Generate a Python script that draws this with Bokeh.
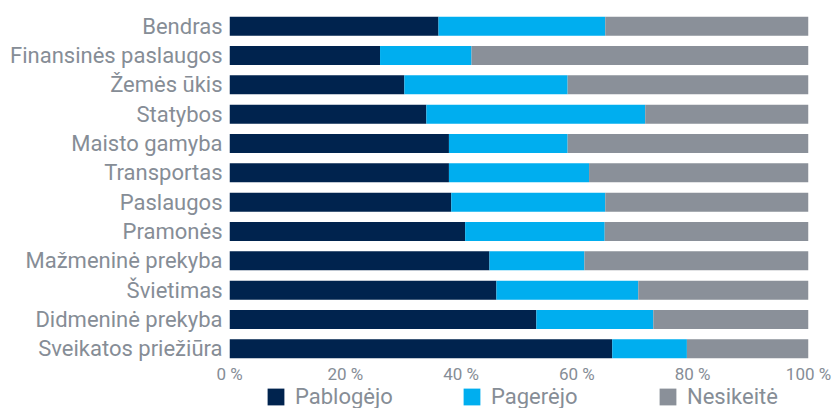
from bokeh.plotting import figure
from bokeh.layouts import column
from bokeh.models import ColumnDataSource, FactorRange, Range1d, FixedTicker, Legend, LegendItem
from bokeh.embed import file_html
from bokeh.resources import INLINE

categories = ["Bendras", "Finansinės paslaugos", "Žemės ūkis", "Statybos", "Maisto gamyba",
              "Transportas", "Paslaugos", "Pramonės", "Mažmeninė prekyba", "Švietimas",
              "Didmeninė prekyba", "Sveikatos priežiūra"]
pablogejo = [36.1, 26.0, 30.2, 34.0, 37.9, 37.9, 38.3, 40.7, 44.9, 46.1, 53.0, 66.1]
pagerejo = [28.8, 15.8, 28.2, 37.8, 20.5, 24.2, 26.6, 24.1, 16.4, 24.5, 20.2, 12.9]
nesikeite = [35.1, 58.2, 41.6, 28.2, 41.6, 37.9, 35.1, 35.2, 38.7, 29.4, 26.8, 21.0]
series_names = ["Pablogėjo", "Pagerėjo", "Nesikeitė"]
series_colors = ["#00234E", "#00AEEF", "#8A9099"]
tick_values = [0, 20, 40, 60, 80, 100]
tick_labels = ["0 %", "20 %", "40 %", "60 %", "80 %", "100 %"]

TEXT = "#868D96"
FONT = "Roboto"

source = ColumnDataSource(data=dict(cat=categories, a=pablogejo, b=pagerejo, c=nesikeite))

p = figure(width=837, height=386, output_backend="svg", toolbar_location=None,
           y_range=FactorRange(*list(reversed(categories))), x_range=Range1d(0, 100),
           min_border_left=229, min_border_right=29, min_border_top=11, min_border_bottom=20)

p.hbar_stack(["a", "b", "c"], y="cat", height=0.65, color=series_colors,
             line_color=None, source=source)

p.outline_line_color = None
p.xgrid.grid_line_color = None
p.ygrid.grid_line_color = None

p.xaxis.ticker = FixedTicker(ticks=tick_values)
p.xaxis.major_label_overrides = {v: l for v, l in zip(tick_values, tick_labels)}
for ax in (p.xaxis[0], p.yaxis[0]):
    ax.axis_line_color = None
    ax.major_tick_line_color = None
    ax.minor_tick_line_color = None
    ax.major_tick_out = 0
    ax.major_tick_in = 0
    ax.major_label_text_font = FONT
    ax.major_label_text_color = TEXT
p.xaxis.major_label_text_font_size = "17px"
p.xaxis.major_label_standoff = 0
p.yaxis.major_label_text_font_size = "22px"
p.yaxis.major_label_standoff = 7

# legend strip below the chart (zero-size bars only serve as legend swatches)
leg = figure(width=837, height=22, output_backend="svg", toolbar_location=None,
             x_range=Range1d(0, 1), y_range=Range1d(0, 1), x_axis_type=None, y_axis_type=None,
             min_border=0)
leg.outline_line_color = None
leg.xgrid.grid_line_color = None
leg.ygrid.grid_line_color = None
leg_renderers = [leg.hbar(y=col, left=0, right=0, height=0, color=c, line_color=None,
                          source=source)
                 for col, c in zip(["a", "b", "c"], series_colors)]
items = [LegendItem(label=n, renderers=[r]) for n, r in zip(series_names, leg_renderers)]
legend = Legend(items=items, orientation="horizontal", location=(36, -1),
                glyph_width=21, glyph_height=21, label_standoff=9, label_width=166,
                spacing=0, padding=0, margin=0, border_line_color=None,
                background_fill_alpha=0, label_text_font=FONT, label_text_font_size="22px",
                label_text_color=TEXT)
leg.add_layout(legend, "center")

layout = column(p, leg, spacing=0)
open("out.html", "w").write(file_html(layout, INLINE))
